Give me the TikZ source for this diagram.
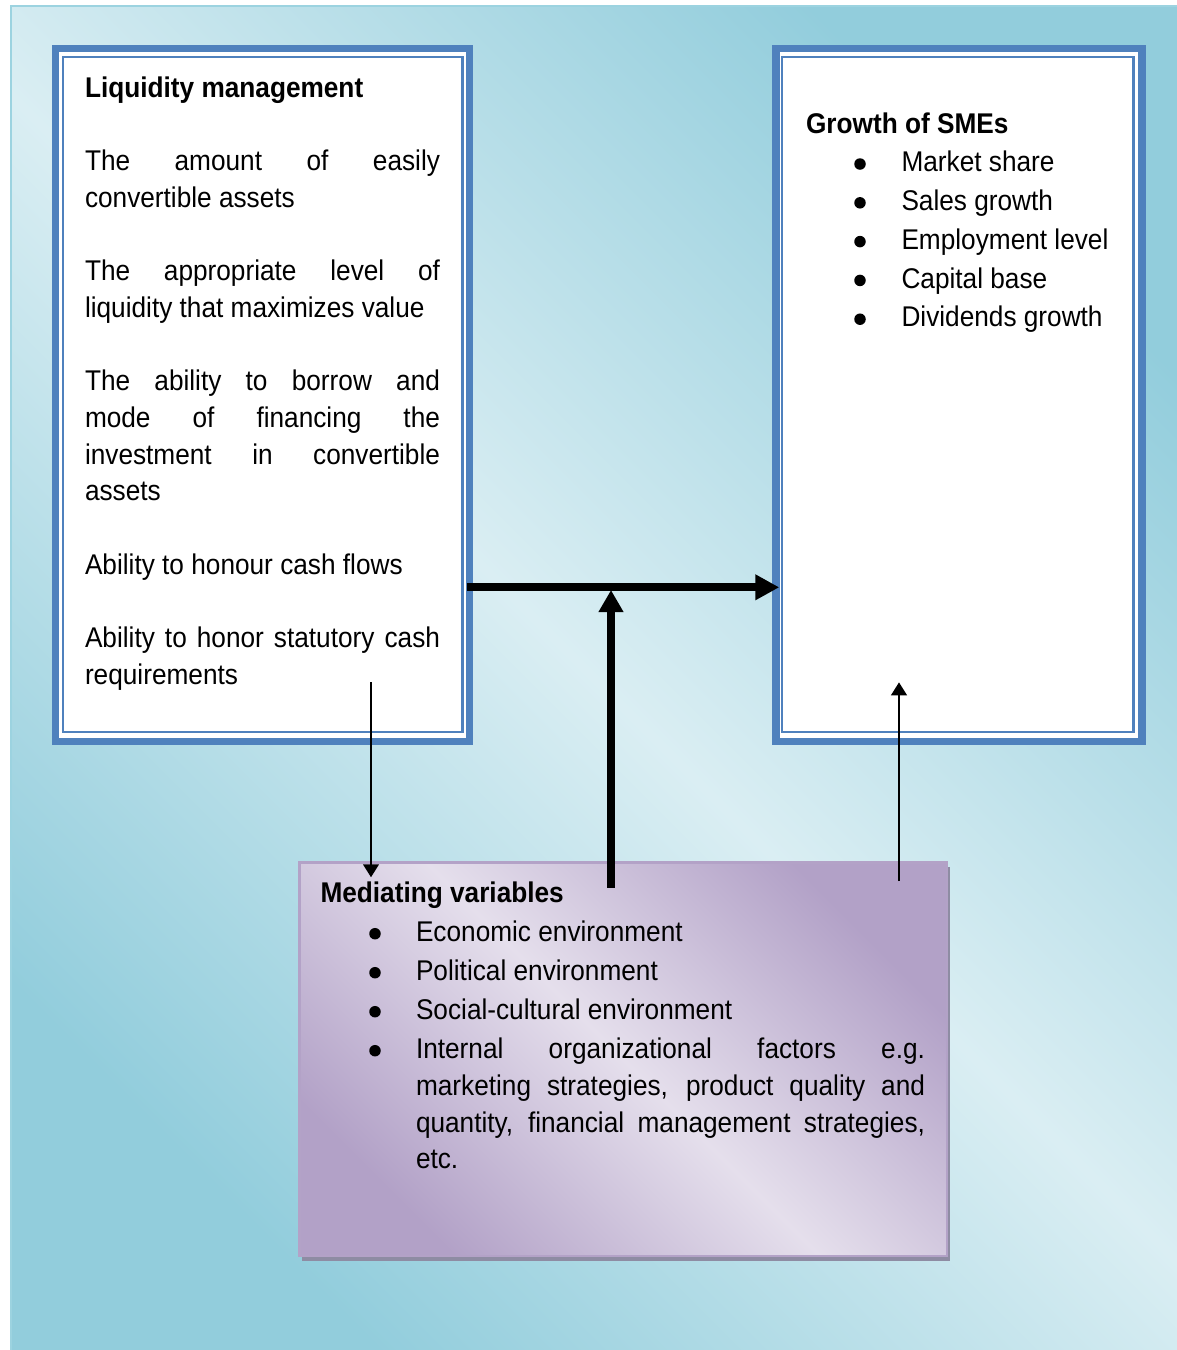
\documentclass[tikz,border=0pt]{standalone}
\usepackage{fontspec}
\setmainfont{Liberation Sans}[FakeStretch=0.92]
\usetikzlibrary{arrows.meta,shadows}
\definecolor{bgdark}{HTML}{92CDDC}
\definecolor{bglight}{HTML}{DAEEF3}
\definecolor{bgedge}{HTML}{9CD3E0}
\definecolor{boxblue}{HTML}{4F81BD}
\definecolor{pdark}{HTML}{B2A1C7}
\definecolor{plight}{HTML}{E5DFEC}
\definecolor{pedge}{HTML}{B3A2C7}
\definecolor{pshadow}{HTML}{8E8CA3}
\begin{document}
\begin{tikzpicture}[x=1pt,y=-1pt,
 txt/.style={anchor=base west, inner sep=0pt, outer sep=0pt, font=\fontsize{28.5}{36.7}\selectfont},
 boldtxt/.style={txt, font=\fontsize{28.5}{36.7}\selectfont\bfseries},
 outerbox/.style={draw=boxblue, line width=7.3pt, fill=white, inner sep=0pt, outer sep=0pt},
 innerbox/.style={draw=boxblue, line width=2.4pt, inner sep=0pt, outer sep=0pt},
 dot/.style={circle, fill=black, inner sep=0pt, minimum size=11.5pt},
 bigarrow/.style={line width=8.3pt, -{Triangle[length=24pt,width=24.3pt]}},
 uparrow/.style={line width=8.3pt, -{Triangle[length=22pt,width=23.5pt]}},
 thinarrow/.style={line width=2.6pt, -{Triangle[length=13pt,width=15.5pt]}},
]
\useasboundingbox (0,0) rectangle (1177,1350);
% background
\shade[shading=axis, top color=bgdark, bottom color=bgdark, middle color=bglight, shading angle=-45] (10,5) rectangle (1185,1358);
\draw[bgedge, line width=1.5pt] (10.75,1360) -- (10.75,5.75) -- (1185,5.75);

% left box
\node[outerbox, minimum width=414pt, minimum height=692.7pt] (lm) at (262.65,395) {};
\node[innerbox, minimum width=399.3pt, minimum height=675pt] (lmi) at (262.85,394.7) {};
% right box
\node[outerbox, minimum width=366.1pt, minimum height=692.7pt] (rm) at (959,395) {};
\node[innerbox, minimum width=351.5pt, minimum height=675pt] (rmi) at (957.75,394.7) {};
% mediating box
\node[top color=pdark, bottom color=pdark, middle color=plight, shading=axis, shading angle=-45,
      draw=pedge, line width=2.5pt,
      drop shadow={shadow xshift=2.5pt, shadow yshift=-4.5pt, fill=pshadow, opacity=1},
      minimum width=647.5pt, minimum height=393.7pt, inner sep=0pt, outer sep=0pt] (mv) at (623.25,1059.2) {};

% left box text
\node[boldtxt] (l0) at (85,97) {Liquidity management};
\node[txt] (l1) at (85,170.4) {\makebox[355pt][s]{The amount of easily}};
\node[txt] (l2) at (85,207.1) {convertible assets};
\node[txt] (l3) at (85,280.5) {\makebox[355pt][s]{The appropriate level of}};
\node[txt] (l4) at (85,317.2) {liquidity that maximizes value};
\node[txt] (l5) at (85,390.6) {\makebox[355pt][s]{The ability to borrow and}};
\node[txt] (l6) at (85,427.3) {\makebox[355pt][s]{mode of financing the}};
\node[txt] (l7) at (85,464) {\makebox[355pt][s]{investment in convertible}};
\node[txt] (l8) at (85,500.7) {assets};
\node[txt] (l9) at (85,574.1) {Ability to honour cash flows};
\node[txt] (l10) at (85,647.5) {\makebox[355pt][s]{Ability to honor statutory cash}};
\node[txt] (l11) at (85,684.2) {requirements};

% right box text
\node[boldtxt] (r0) at (806,133.3) {Growth of SMEs};
\node[dot] (rb1) at (860,164) {};
\node[txt] (r1) at (901.5,171.7) {Market share};
\node[dot] (rb2) at (860,202.8) {};
\node[txt] (r2) at (901.5,210.5) {Sales growth};
\node[dot] (rb3) at (860,241.6) {};
\node[txt] (r3) at (901.5,249.3) {Employment level};
\node[dot] (rb4) at (860,280.4) {};
\node[txt] (r4) at (901.5,288.1) {Capital base};
\node[dot] (rb5) at (860,319.2) {};
\node[txt] (r5) at (901.5,326.9) {Dividends growth};

% mediating text
\node[boldtxt] (m0) at (320.5,902.7) {Mediating variables};
\node[dot] (mb1) at (375,933.7) {};
\node[txt] (m1) at (416,941.7) {Economic environment};
\node[dot] (mb2) at (375,972.7) {};
\node[txt] (m2) at (416,980.7) {Political environment};
\node[dot] (mb3) at (375,1011.7) {};
\node[txt] (m3) at (416,1019.7) {Social-cultural environment};
\node[dot] (mb4) at (375,1050.7) {};
\node[txt] (m4) at (416,1058.7) {\makebox[509pt][s]{Internal organizational factors e.g.}};
\node[txt] (m5) at (416,1095.4) {\makebox[509pt][s]{marketing strategies, product quality and}};
\node[txt] (m6) at (416,1132.1) {\makebox[509pt][s]{quantity, financial management strategies,}};
\node[txt] (m7) at (416,1168.8) {etc.};

% connectors
\coordinate (hj) at (611,587.3);
\draw[bigarrow, shorten <=-3pt, shorten >=-3.3pt] (lm.east |- hj) -- (rm.west |- hj);
\coordinate (vb) at (611,887.7);
\draw[uparrow, shorten >=2.7pt] (vb) -- (hj);
\coordinate (ds) at (371,682);
\coordinate (de) at (371,877.3);
\draw[thinarrow] (ds) -- (de);
\coordinate (us) at (899,881);
\coordinate (ue) at (899,682.3);
\draw[thinarrow] (us) -- (ue);
\end{tikzpicture}
\end{document}
